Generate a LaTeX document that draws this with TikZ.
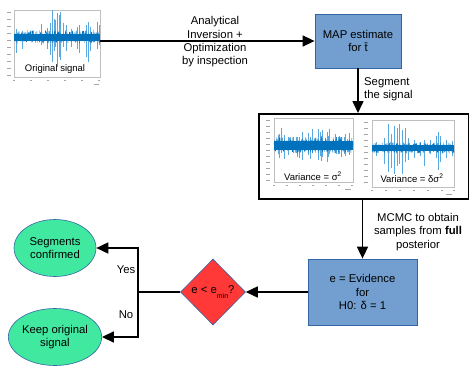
\documentclass[tikz,border=0pt]{standalone}
\usepackage{fontspec}
\setmainfont{Liberation Sans}
\usetikzlibrary{arrows.meta,shapes.geometric}
\definecolor{boxblue}{HTML}{729FCF}
\definecolor{edgeblue}{HTML}{3465A4}
\definecolor{mint}{HTML}{40E8A0}
\definecolor{dred}{HTML}{FF3838}
\definecolor{sigdark}{HTML}{0072BD}
\definecolor{siglight}{HTML}{5AA8E0}
\tikzset{
  bluebox/.style={draw=edgeblue, fill=boxblue, line width=0.8pt, align=center, inner sep=2pt},
  arr/.style={line width=1.6pt, -{Triangle[length=12pt,width=11pt]}},
  conn/.style={line width=1.6pt},
  ell/.style={ellipse, draw=edgeblue, fill=mint, line width=0.6pt, align=center, minimum width=82pt, minimum height=57pt, inner sep=0pt},
  dia/.style={diamond, draw=edgeblue, fill=dred, line width=0.6pt, minimum width=65pt, minimum height=66pt, inner sep=0pt},
  lab/.style={align=center, inner sep=0pt},
  axisframe/.style={draw=black!25, line width=0.3pt},
  tickmark/.style={draw=black!35, line width=0.6pt},
  plottext/.style={font=\fontsize{9.5}{11}\selectfont, inner sep=0pt},
  band/.style={fill=sigdark, draw=none},
  zig/.style={draw=sigdark, line width=0.3pt},
  spike/.style={draw=siglight, line width=0.4pt},
}
\begin{document}
\begin{tikzpicture}[x=1pt,y=-1pt, every node/.append style={font=\fontsize{11.3}{13.3}\selectfont}]
\useasboundingbox (0,0) rectangle (469,367);

% ---------- original signal plot ----------
\draw[axisframe] (14,10) rectangle (100,77);
\foreach \y in {12,19,...,76} \draw[tickmark] (7,\y) -- (10.5,\y);
\foreach \x in {14,31,48,65,82,99} \draw[tickmark] (\x-1.2,80.5) -- (\x+1.2,80.5);
\draw[tickmark] (94,84) -- (99,84);
\foreach \x/\u/\d in {16/8/16, 22/6/12, 41/13/8, 47/9/12, 50/14/18, 52/27/25, 54/18/14, 55/17/10, 57/24/30, 59/22/20, 60/25/23, 63/14/10, 66/12/14, 71/8/10, 77/10/12, 79/12/16, 86/12/20, 88/15/25, 90/10/14, 97/15/12, 99/12/8}
  \draw[spike] (\x,37-\u) -- (\x,37+\d);
\fill[band] (14,33.5) rectangle (100,40.5);
\pgfmathsetseed{11}
\draw[zig] (14,37) \foreach \i in {1,...,300}{ -- ({14+\i*0.2867},{37+6.5*rand}) };
\node[plottext] (origtxt) at (55,69) {Original signal};
\coordinate (origout) at (100,41);

% ---------- MAP box ----------
\node[bluebox, minimum width=86pt, minimum height=54pt] (map) at (358,41) {MAP estimate\\for \={t}};
\draw[arr] (origout) -- (map.west);
\node[lab] (l1) at (215,42) {Analytical\\Inversion +\\Optimization\\by inspection};

% ---------- segmented box ----------
\node[draw, line width=1.6pt, minimum width=210pt, minimum height=85pt, anchor=north west, inner sep=0pt] (seg) at (258,113) {};
\draw[arr] (map.south) -- (map.south |- seg.north);
\node[lab, align=left, anchor=west] (l2) at (364,89) {Segment\\the signal};

% plot 2
\draw[axisframe] (274,118) rectangle (353,182);
\foreach \y in {120,126,...,180} \draw[tickmark] (266,\y) -- (270,\y);
\foreach \x in {274,287,300,313,326,339,352} \draw[tickmark] (\x-1.2,185) -- (\x+1.2,185);
\draw[tickmark] (345,189) -- (351,189);
\pgfmathsetseed{5}
\foreach \i in {1,...,34}{
  \pgfmathsetmacro{\xx}{275+77*rnd}
  \pgfmathsetmacro{\uu}{8+9*rnd^2}
  \pgfmathsetmacro{\dd}{8+9*rnd^2}
  \draw[spike] (\xx,145-\uu) -- (\xx,145+\dd);
}
\fill[band] (274,140.5) rectangle (353,149.5);
\pgfmathsetseed{23}
\draw[zig] (274,145) \foreach \i in {1,...,280}{ -- ({274+\i*0.2821},{145+8*rand}) };
\node[plottext] (v1) at (313,176) {Variance = σ\textsuperscript{2}};

% plot 3
\draw[axisframe] (372,120) rectangle (454,187);
\foreach \y in {122,128,...,186} \draw[tickmark] (364,\y) -- (368,\y);
\foreach \x in {372,386,400,414,428,442,454} \draw[tickmark] (\x-1.2,190) -- (\x+1.2,190);
\draw[tickmark] (446,194) -- (452,194);
\foreach \x/\u/\d in {376/6/8, 384/10/16, 388/24/24, 391/14/20, 394/22/26, 397/20/18, 399/24/16, 402/18/26, 405/20/14, 408/10/12, 414/8/10, 420/6/8, 424/8/18, 430/8/6, 436/12/10, 438/16/22, 440/12/14, 446/8/10, 452/7/8}
  \draw[spike] (\x,148-\u) -- (\x,148+\d);
\fill[band] (372,145) rectangle (454,151);
\pgfmathsetseed{37}
\draw[zig] (372,148) \foreach \i in {1,...,290}{ -- ({372+\i*0.2828},{148+5.5*rand}) };
\node[plottext] (v2) at (412,178) {Variance = δσ\textsuperscript{2}};

% ---------- evidence box ----------
\node[bluebox, minimum width=109pt, minimum height=66pt] (ev) at (362.5,292) {e = Evidence\\for\\H0: δ = 1};
\draw[arr] (seg.south -| ev.north) -- (ev.north);
\node[lab] (l3) at (418,232) {MCMC to obtain\\samples from \textbf{full}\\posterior};

% ---------- decision ----------
\node[dia] (dec) at (213,292) {e < e\raisebox{-0.8ex}{\fontsize{7}{8}\selectfont min}?};
\draw[arr] (ev.west) -- (dec.east);
\coordinate (j) at (138,292);
\draw[conn] (dec.west) -- (j);

\node[ell] (ok) at (55,248) {Segments\\confirmed};
\node[ell] (keep) at (55,337) {Keep original\\signal};
\draw[arr] (j) |- (ok.east);
\draw[arr] (j) |- (keep.east);
\node[lab] (yes) at (126,270) {Yes};
\node[lab] (no) at (126,315) {No};
\end{tikzpicture}
\end{document}
